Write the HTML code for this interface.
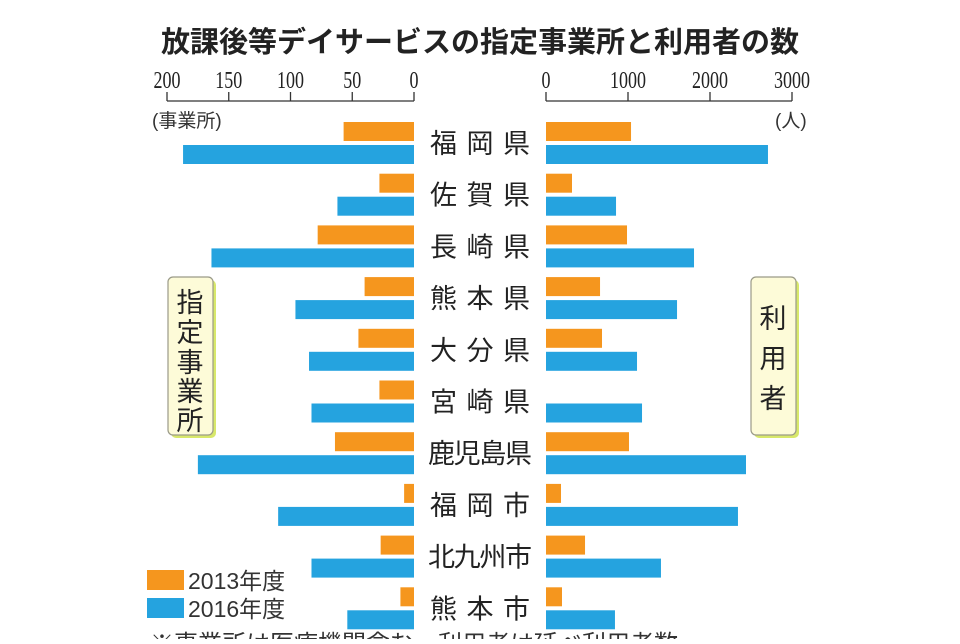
<!DOCTYPE html>
<html><head><meta charset="utf-8">
<style>
body{margin:0;background:#fff;}
svg text{font-family:"Liberation Sans","Noto Sans CJK JP",sans-serif;}
svg text.tick{font-family:"Liberation Serif","Noto Serif CJK SC",serif;}
</style></head>
<body>
<svg width="960" height="639" viewBox="0 0 960 639" xmlns="http://www.w3.org/2000/svg">
<text x="480" y="52" text-anchor="middle" font-size="29" font-weight="bold" fill="#222">放課後等デイサービスの指定事業所と利用者の数</text>
<g id="axes"></g>
<g id="bars"></g>
<g>
<rect x="171" y="280" width="45" height="158" rx="5" fill="#d8e86a"/>
<rect x="168" y="277" width="45" height="158" rx="5" fill="#fdfbd8" stroke="#9a9a88" stroke-width="1.2"/>
<text font-size="27" fill="#222" text-anchor="middle"><tspan x="190" y="312">指</tspan><tspan x="190" y="342">定</tspan><tspan x="190" y="372">事</tspan><tspan x="190" y="401">業</tspan><tspan x="190" y="430">所</tspan></text>
</g>
<g>
<rect x="754" y="280" width="45" height="158" rx="5" fill="#d8e86a"/>
<rect x="751" y="277" width="45" height="158" rx="5" fill="#fdfbd8" stroke="#9a9a88" stroke-width="1.2"/>
<text font-size="27" fill="#222" text-anchor="middle"><tspan x="773" y="328">利</tspan><tspan x="773" y="368">用</tspan><tspan x="773" y="408">者</tspan></text>
</g>
<g>
<rect x="147" y="570" width="37" height="20" fill="#f5961e"/>
<text x="188" y="589" font-size="23" fill="#333">2013年度</text>
<rect x="147" y="598" width="37" height="20" fill="#25a3df"/>
<text x="188" y="617" font-size="23" fill="#333">2016年度</text>
</g>
<text x="150" y="652" font-size="24" fill="#333">※事業所は医療機関含む。利用者は延べ利用者数</text>
</svg>
<script>
const categories=["福岡県","佐賀県","長崎県","熊本県","大分県","宮崎県","鹿児島県","福岡市","北九州市","熊本市"];
const offices2013=[57,28,78,40,45,28,64,8,27,11];
const offices2016=[187,62,164,96,85,83,175,110,83,54];
const users2013=[1037,317,988,659,683,0,1012,183,476,195];
const users2016=[2707,854,1805,1598,1110,1171,2439,2341,1402,841];
const leftTicks=[200,150,100,50,0];
const rightTicks=[0,1000,2000,3000];
const NS="http://www.w3.org/2000/svg";
const L0=414,LS=1.235,R0=546,RS=0.082;
const xl=v=>L0-v*LS, xr=v=>R0+v*RS;
const rowY=i=>143+i*51.7;
function mk(t,a,p){const e=document.createElementNS(NS,t);for(const k in a)e.setAttribute(k,a[k]);p.appendChild(e);return e;}
const ax=document.getElementById('axes'),bars=document.getElementById('bars');
let la=mk('path',{d:`M${xl(200)} 101H${L0}`,stroke:'#333','stroke-width':1.3,fill:'none'},ax);


leftTicks.forEach(t=>{
 const tk=mk('line',{x1:xl(t),x2:xl(t),y1:92,y2:101,stroke:'#333','stroke-width':1.3},ax);
 
 
 const tx=mk('text',{class:'tick',x:xl(t),y:88,'text-anchor':'middle','font-size':24,fill:'#222',transform:`translate(${xl(t)} 0) scale(0.75 1) translate(${-xl(t)} 0)`},ax);
 tx.textContent=t;
 
 
});
let ra=mk('path',{d:`M${R0} 101H${xr(3000)}`,stroke:'#333','stroke-width':1.3,fill:'none'},ax);


rightTicks.forEach(t=>{
 const tk=mk('line',{x1:xr(t),x2:xr(t),y1:92,y2:101,stroke:'#333','stroke-width':1.3},ax);
 
 
 const tx=mk('text',{class:'tick',x:xr(t),y:88,'text-anchor':'middle','font-size':24,fill:'#222',transform:`translate(${xr(t)} 0) scale(0.75 1) translate(${-xr(t)} 0)`},ax);
 tx.textContent=t;
 
 
});
let u1=mk('text',{x:152,y:127,'font-size':19,fill:'#333'},ax);u1.textContent='(事業所)';


let u2=mk('text',{x:775,y:127,'font-size':19,fill:'#333'},ax);u2.textContent='(人)';


categories.forEach((c,i)=>{
 const y=rowY(i);
 const specs=[[xl(offices2013[i]),L0-xl(offices2013[i]),y-21,'#f5961e','office-2013-bar'],
  [xl(offices2016[i]),L0-xl(offices2016[i]),y+2,'#25a3df','office-2016-bar'],
  [R0,xr(users2013[i])-R0,y-21,'#f5961e','users-2013-bar'],
  [R0,xr(users2016[i])-R0,y+2,'#25a3df','users-2016-bar']];
 specs.forEach(s=>{
  const r=mk('rect',{x:s[0],y:s[2],width:Math.max(0,s[1]),height:19,fill:s[3]},bars);
  
  
 });
 const t=mk('text',{x:480,y:y+10,'text-anchor':'middle','font-size':27,fill:'#222','textLength':c.length>3?104:100,'lengthAdjust':'spacing'},bars);
 t.textContent=c;
 
 
});
</script>
</body></html>
